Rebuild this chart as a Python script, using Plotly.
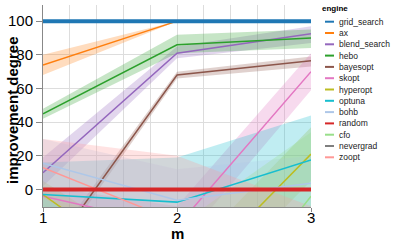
import plotly.graph_objects as go

# ---------------- data ----------------
m_values = [1, 2, 3]
x_tick_labels = ["1", "2", "3"]
y_tick_values = [0, 20, 40, 60, 80, 100]
engines = ["grid_search", "ax", "blend_search", "hebo", "bayesopt", "skopt",
           "hyperopt", "optuna", "bohb", "random", "cfo", "nevergrad", "zoopt"]
colors = ["#1f77b4", "#ff7f0e", "#9467bd", "#2ca02c", "#8c564b", "#e377c2",
          "#bcbd22", "#17becf", "#aec7e8", "#d62728", "#98df8a", "#7f7f7f", "#ff9896"]

grid_search_mean = [100, 100, 100]
grid_search_lo = [100, 100, 100]
grid_search_hi = [100, 100, 100]

ax_mean = [74, 100, 100]
ax_lo = [68, 100, 100]
ax_hi = [80, 100, 100]

blend_search_mean = [10, 81, 92.5]
blend_search_lo = [2, 78, 87]
blend_search_hi = [19, 85, 97]

hebo_mean = [45, 86, 90]
hebo_lo = [42, 81, 84]
hebo_hi = [48, 92, 95]

bayesopt_mean = [-43, 68, 76.5]
bayesopt_lo = [-47, 66, 73]
bayesopt_hi = [-39, 70, 79]

skopt_mean = [-4, -22, 70]
skopt_lo = [-10, -35, 59]
skopt_hi = [2, -10, 81]

hyperopt_mean = [-3, -60, 21]
hyperopt_lo = [-12, -75, 5]
hyperopt_hi = [5, -45, 37]

optuna_mean = [-3, -7.5, 17.5]
optuna_lo = [-20, -25, -12]
optuna_hi = [16, 19, 44]

bohb_mean = [15.6, -6.4, 3.7]
bohb_lo = [-5, -25, -15]
bohb_hi = [30, 12, 20]

random_mean = [0, 0, 0]
random_lo = [0, 0, 0]
random_hi = [0, 0, 0]

cfo_mean = [-60, -105, -4]
cfo_lo = [-90, -180, -40]
cfo_hi = [-35, -22, 34]

nevergrad_mean = [-60, -50, -40]
nevergrad_lo = [-80, -70, -60]
nevergrad_hi = [-40, -30, -20]

zoopt_mean = [13, -19, -30]
zoopt_lo = [-5, -45, -50]
zoopt_hi = [30, 20, -10]

means = [grid_search_mean, ax_mean, blend_search_mean, hebo_mean, bayesopt_mean,
         skopt_mean, hyperopt_mean, optuna_mean, bohb_mean, random_mean,
         cfo_mean, nevergrad_mean, zoopt_mean]
los = [grid_search_lo, ax_lo, blend_search_lo, hebo_lo, bayesopt_lo,
       skopt_lo, hyperopt_lo, optuna_lo, bohb_lo, random_lo,
       cfo_lo, nevergrad_lo, zoopt_lo]
his = [grid_search_hi, ax_hi, blend_search_hi, hebo_hi, bayesopt_hi,
       skopt_hi, hyperopt_hi, optuna_hi, bohb_hi, random_hi,
       cfo_hi, nevergrad_hi, zoopt_hi]
thick_engines = ["grid_search", "random"]

# ---------------- layout constants ----------------
W, H = 395, 241
L, R, T, B = 43, 84, 5, 34
PW, PH = W - L - R, H - T - B
FONT = "Liberation Sans, Arial, sans-serif"


def rgba(hex_color, a):
    h = hex_color.lstrip("#")
    r, g, b = int(h[0:2], 16), int(h[2:4], 16), int(h[4:6], 16)
    return f"rgba({r},{g},{b},{a})"


def px_x(px):
    return (px - L) / PW


def px_y(py):
    return (T + PH - py) / PH


fig = go.Figure()

# bands
for name, col, lo, hi in zip(engines, colors, los, his):
    fig.add_trace(go.Scatter(
        x=m_values + m_values[::-1], y=hi + lo[::-1],
        fill="toself", fillcolor=rgba(col, 0.27), line=dict(width=0),
        mode="lines", hoverinfo="skip", showlegend=False))

# thin lines
for name, col, mean in zip(engines, colors, means):
    if name in thick_engines:
        continue
    fig.add_trace(go.Scatter(x=m_values, y=mean, mode="lines",
                             line=dict(color=col, width=1.5), name=name,
                             showlegend=False))
# thick baseline lines
for name, col, mean in zip(engines, colors, means):
    if name not in thick_engines:
        continue
    fig.add_trace(go.Scatter(x=m_values, y=mean, mode="lines",
                             line=dict(color=col, width=4), name=name,
                             showlegend=False))

# manual legend (Vega-style compact)
shapes = []
annotations = []
annotations.append(dict(x=px_x(320), y=px_y(8), xref="paper", yref="paper",
                        text="<b>engine</b>", showarrow=False, xanchor="left",
                        yanchor="middle", font=dict(size=8, color="#000", family=FONT)))
for i, (name, col) in enumerate(zip(engines, colors)):
    yy = 21.7 + i * 11.3
    shapes.append(dict(type="line", xref="paper", yref="paper",
                       x0=px_x(325), x1=px_x(334), y0=px_y(yy), y1=px_y(yy),
                       line=dict(color=col, width=2)))
    annotations.append(dict(x=px_x(337), y=px_y(yy), xref="paper", yref="paper",
                            text=name, showarrow=False, xanchor="left",
                            yanchor="middle", font=dict(size=8.5, color="#222", family=FONT)))

# x tick labels (placed close to the axis, Vega-style)
for mv, lab in zip(m_values, x_tick_labels):
    annotations.append(dict(x=mv, y=px_y(217), xref="x", yref="paper",
                            text=lab, showarrow=False, xanchor="center",
                            yanchor="middle", font=dict(size=15, color="#000", family=FONT)))

# axis titles
annotations.append(dict(x=px_x(12), y=px_y(110), xref="paper", yref="paper",
                        text="<b>improvement degree</b>", showarrow=False, textangle=-90,
                        xanchor="center", yanchor="middle",
                        font=dict(size=15, color="#000", family=FONT)))
annotations.append(dict(x=px_x(177), y=px_y(233), xref="paper", yref="paper",
                        text="<b>m</b>", showarrow=False,
                        xanchor="center", yanchor="middle",
                        font=dict(size=15, color="#000", family=FONT)))

fig.update_layout(
    width=W, height=H,
    margin=dict(l=L, r=R, t=T, b=B),
    paper_bgcolor="white", plot_bgcolor="white",
    font=dict(family=FONT, color="#000"),
    showlegend=False,
    shapes=shapes, annotations=annotations,
    xaxis=dict(range=[1, 3], tickvals=m_values, showticklabels=False,
               showgrid=True, gridcolor="#dddddd", gridwidth=1,
               minor=dict(dtick=0.2, showgrid=True, gridcolor="#dddddd"),
               showline=True, linecolor="#888", linewidth=1,
               ticks="outside", ticklen=4, tickcolor="#888",
               zeroline=False, automargin=False),
    yaxis=dict(range=[-10.4, 109.6], tickvals=y_tick_values,
               showgrid=True, gridcolor="#dddddd", gridwidth=1,
               showline=True, linecolor="#888", linewidth=1,
               ticks="outside", ticklen=6, tickcolor="#888",
               tickfont=dict(size=15), zeroline=False, automargin=False),
)

fig.write_html("out.html", post_script="document.body.style.margin='0';",
               config={"displayModeBar": False})
